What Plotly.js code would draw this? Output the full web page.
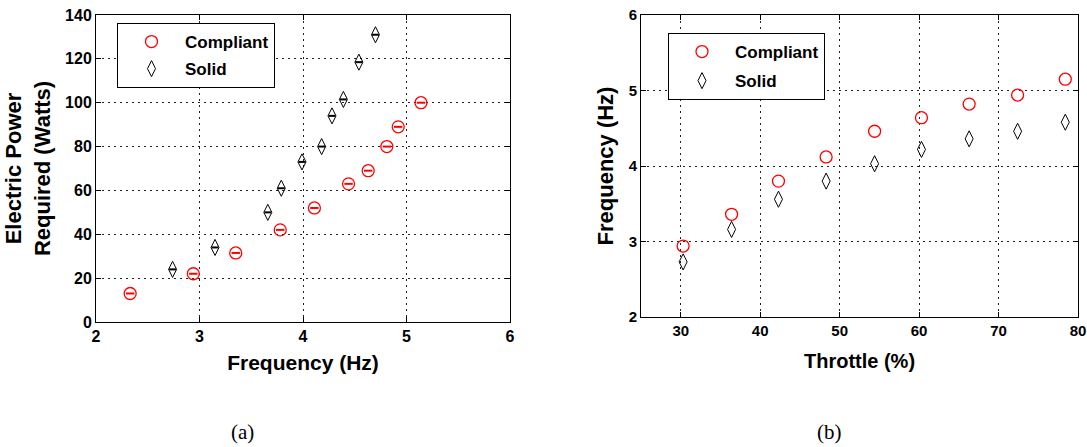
<!DOCTYPE html>
<html>
<head>
<meta charset="utf-8">
<script src="https://cdn.plot.ly/plotly-3.0.1.min.js"></script>
<style>html,body{margin:0;padding:0;background:#fff;}#chart{width:1087px;height:447px;}</style>
</head>
<body>
<div id="chart"></div>
<script>
// (a) Electric power required vs frequency
const aCompliantFreq = [2.33, 2.94, 3.35, 3.78, 4.11, 4.44, 4.63, 4.81, 4.92, 5.14];
const aCompliantPower = [13, 22, 31.5, 42, 52, 63, 69, 80, 89, 100];
const aSolidFreq = [2.74, 3.15, 3.66, 3.79, 3.99, 4.18, 4.28, 4.39, 4.54, 4.70];
const aSolidPower = [24, 34, 50, 61, 73, 80, 94, 101.5, 118.5, 131];

// (b) Frequency vs throttle
const bThrottle = [30.3, 36.4, 42.3, 48.3, 54.4, 60.3, 66.3, 72.4, 78.4];
const bCompliantFreq = [2.94, 3.36, 3.80, 4.12, 4.46, 4.64, 4.82, 4.94, 5.15];
const bSolidFreq = [2.73, 3.16, 3.56, 3.80, 4.03, 4.22, 4.36, 4.46, 4.58];

const seriesNames = ['Compliant', 'Solid'];
const xTitleA = 'Frequency (Hz)';
const yTitleA = 'Electric Power<br>Required (Watts)';
const xTitleB = 'Throttle (%)';
const yTitleB = 'Frequency (Hz)';

const RED = '#ff0000';
const BLK = '#000000';
const FAM = 'Liberation Sans, Arial, sans-serif';
const tickFontA = {family: FAM, size: 16, color: '#000', weight: 'bold'};
const tickFontB = {family: FAM, size: 15, color: '#000', weight: 'bold'};
const legFont = {family: FAM, size: 17, color: '#000', weight: 'bold'};

const circleMarker = {symbol: 'circle-open', size: 12, color: RED, line: {width: 1.3, color: RED}};
const diamondMarker = {symbol: 'diamond-tall-open', size: 11.5, color: BLK, line: {width: 1, color: BLK}};

const traces = [
  {x: aCompliantFreq, y: aCompliantPower, xaxis: 'x', yaxis: 'y', mode: 'markers', name: seriesNames[0],
   legend: 'legend', legendgroup: 'a1', marker: circleMarker},
  {x: aSolidFreq, y: aSolidPower, xaxis: 'x', yaxis: 'y', mode: 'markers', name: seriesNames[1],
   legend: 'legend', legendgroup: 'a2', marker: diamondMarker},
  {x: aCompliantFreq, y: aCompliantPower, xaxis: 'x', yaxis: 'y', mode: 'markers', showlegend: false, hoverinfo: 'skip',
   marker: {symbol: 'line-ew-open', size: 6, color: RED, line: {width: 2, color: RED}}},
  {x: aSolidFreq, y: aSolidPower, xaxis: 'x', yaxis: 'y', mode: 'markers', showlegend: false, hoverinfo: 'skip',
   marker: {symbol: 'line-ew-open', size: 5, color: BLK, line: {width: 2, color: BLK}}},
  {x: bThrottle, y: bCompliantFreq, xaxis: 'x2', yaxis: 'y2', mode: 'markers', name: seriesNames[0],
   legend: 'legend2', legendgroup: 'b1', marker: circleMarker},
  {x: bThrottle, y: bSolidFreq, xaxis: 'x2', yaxis: 'y2', mode: 'markers', name: seriesNames[1],
   legend: 'legend2', legendgroup: 'b2', marker: diamondMarker}
];

function axisBase(tf) {
  return {
    showline: true, linecolor: '#000', linewidth: 1, mirror: 'allticks',
    ticks: 'inside', ticklen: 5, tickcolor: '#000', tickwidth: 1,
    showgrid: true, gridcolor: '#222', gridwidth: 1, griddash: '2px,4px',
    zeroline: false, tickfont: tf, automargin: false, fixedrange: true
  };
}

const W = 1087, H = 447;
const layout = {
  width: W, height: H,
  margin: {l: 0, r: 0, t: 0, b: 0},
  paper_bgcolor: '#fff', plot_bgcolor: '#fff',
  showlegend: true,
  xaxis: Object.assign(axisBase(tickFontA), {domain: [96/W, 510/W], range: [2, 6], dtick: 1, tick0: 2,
    title: {text: xTitleA, font: {family: FAM, size: 21, color: '#000', weight: 'bold'}, standoff: 11}}),
  yaxis: Object.assign(axisBase(tickFontA), {domain: [1 - 322/H, 1 - 15/H], range: [0, 140], dtick: 20, tick0: 0,
    title: {text: yTitleA, font: {family: FAM, size: 22, color: '#000', weight: 'bold'}, standoff: 8}}),
  xaxis2: Object.assign(axisBase(tickFontB), {anchor: 'y2', domain: [641/W, 1078/W], range: [25, 80], tickvals: [30, 40, 50, 60, 70, 80],
    title: {text: xTitleB, font: {family: FAM, size: 20, color: '#000', weight: 'bold'}, standoff: 15}}),
  yaxis2: Object.assign(axisBase(tickFontB), {anchor: 'x2', domain: [1 - 317/H, 1 - 15/H], range: [2, 6], dtick: 1, tick0: 2,
    title: {text: yTitleB, font: {family: FAM, size: 22, color: '#000', weight: 'bold'}, standoff: 8}}),
  legend: {x: 117/W, y: 1 - 23/H, xanchor: 'left', yanchor: 'top', bgcolor: '#fff', bordercolor: '#000', borderwidth: 1,
    font: legFont, itemwidth: 57, tracegroupgap: 2},
  legend2: {x: 668/W, y: 1 - 33/H, xanchor: 'left', yanchor: 'top', bgcolor: '#fff', bordercolor: '#000', borderwidth: 1,
    font: legFont, itemwidth: 56, tracegroupgap: 4},
  annotations: [
    {text: '(a)', xref: 'paper', yref: 'paper', x: 242/W, y: 1 - 432/H, xanchor: 'center', yanchor: 'middle', showarrow: false,
     font: {family: 'Liberation Serif, Times New Roman, serif', size: 21, color: '#000'}},
    {text: '(b)', xref: 'paper', yref: 'paper', x: 829/W, y: 1 - 432/H, xanchor: 'center', yanchor: 'middle', showarrow: false,
     font: {family: 'Liberation Serif, Times New Roman, serif', size: 21, color: '#000'}}
  ]
};

Plotly.newPlot('chart', traces, layout, {staticPlot: true, displayModeBar: false});
</script>
</body>
</html>
